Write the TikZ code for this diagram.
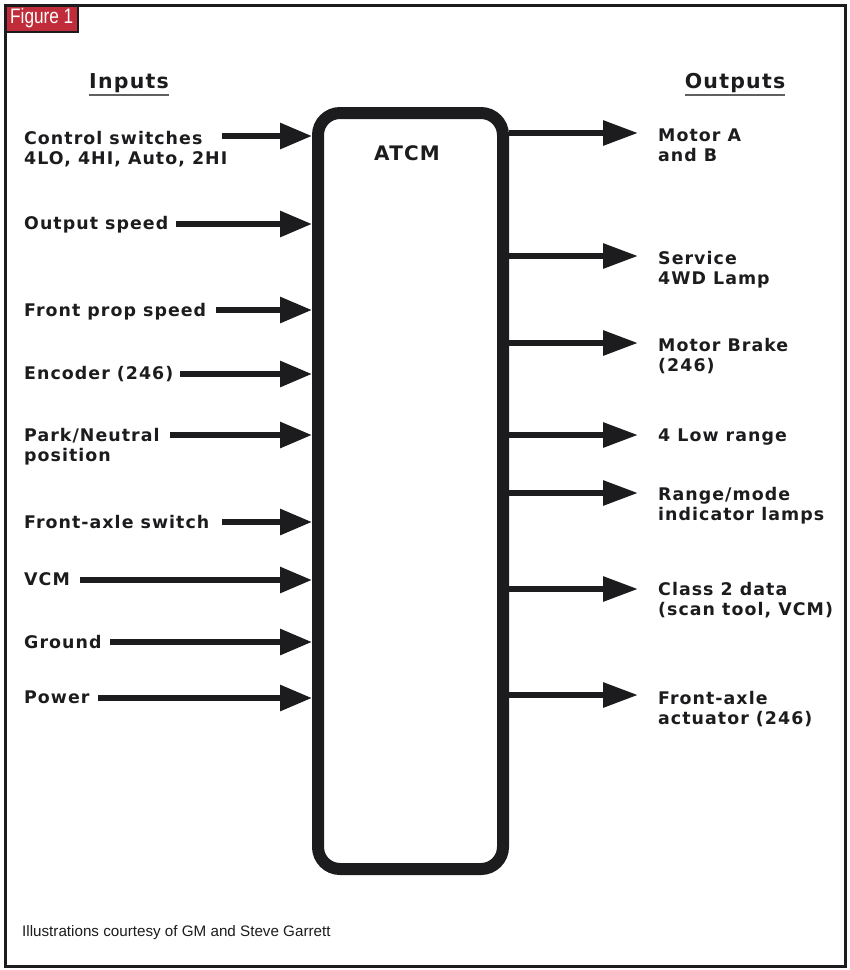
\documentclass[tikz,border=0pt]{standalone}
\usepackage{fontspec}
\setmainfont{Liberation Sans}
\newfontfamily\lblfont{DejaVu Sans}[LetterSpace=6]
\usetikzlibrary{arrows.meta}
\definecolor{ink}{RGB}{28,28,30}
\definecolor{figred}{RGB}{192,44,58}
\tikzset{
  lbl/.style={anchor=base west, inner sep=0pt, align=left, text=ink,
    font=\lblfont\bfseries\fontsize{17.4}{20}\selectfont},
  hdr/.style={anchor=base, inner sep=0pt, text=ink,
    font=\lblfont\bfseries\fontsize{20.5}{24}\selectfont},
  inarrow/.style={draw=ink, line width=6pt, -{Triangle[length=32pt,width=25pt]}},
  outarrow/.style={draw=ink, line width=6pt, -{Triangle[length=35pt,width=24pt]}},
  ulin/.style={draw=ink!70, line width=1.8pt},
}
\begin{document}
\begin{tikzpicture}[x=1pt,y=-1pt]
\useasboundingbox (0,0) rectangle (850,970);
% frame
\draw[ink, line width=3pt] (5,5) rectangle (845,966);
\node[draw=ink, line width=1.5pt, fill=figred, minimum width=72pt, minimum height=26pt, anchor=north west, inner sep=0pt] (figbox) at (5,5) {};
\node[text=white, font=\fontsize{21}{22}\selectfont, xscale=0.82, inner sep=0pt] (figlbl) at ([yshift=0.5pt]figbox.center) {Figure 1};
% ATCM box
\node[draw=ink, line width=12pt, rounded corners=22pt, minimum width=185pt, minimum height=756pt, inner sep=0pt] (atcm) at (410.5,491) {};
\node[hdr, font=\lblfont\bfseries\fontsize{20}{24}\selectfont] (atcmlbl) at (407,160) {ATCM};
% headers
\node[hdr] (inputs) at (129,88) {Inputs};
\node[hdr] (outputs) at (735,88) {Outputs};
\draw[ulin] ([yshift=-7pt]inputs.base west) -- ([yshift=-7pt]inputs.base east);
\draw[ulin] ([yshift=-7pt]outputs.base west) -- ([yshift=-7pt]outputs.base east);
% inputs
\node[lbl] (i1) at (24,164.5) {Control switches\\4LO, 4HI, Auto, 2HI};
\node[lbl] (i2) at (24,229.5) {Output speed};
\node[lbl] (i3) at (24,316.5) {Front prop speed};
\node[lbl] (i4) at (24,379.5) {Encoder (246)};
\node[lbl] (i5) at (24,461.5) {Park/Neutral\\position};
\node[lbl] (i6) at (24,528.5) {Front-axle switch};
\node[lbl] (i7) at (24,585.5) {VCM};
\node[lbl] (i8) at (24,648.5) {Ground};
\node[lbl] (i9) at (24,703.5) {Power};
\coordinate (s1) at (222,136);
\coordinate (s2) at (176,224);
\coordinate (s3) at (216,310);
\coordinate (s4) at (180,374);
\coordinate (s5) at (170,435);
\coordinate (s6) at (222,522);
\coordinate (s7) at (80,580);
\coordinate (s8) at (110,642);
\coordinate (s9) at (98,698);
\foreach \k in {1,...,9} {\draw[inarrow] (s\k) -- (s\k -| atcm.west);}
% outputs
\node[lbl] (o1) at (658,161) {Motor A\\and B};
\node[lbl] (o2) at (658,284) {Service\\4WD Lamp};
\node[lbl] (o3) at (658,371) {Motor Brake\\(246)};
\node[lbl] (o4) at (658,441) {4 Low range};
\node[lbl] (o5) at (658,520) {Range/mode\\indicator lamps};
\node[lbl] (o6) at (658,615) {Class 2 data\\(scan tool, VCM)};
\node[lbl] (o7) at (658,724) {Front-axle\\actuator (246)};
\coordinate (e1) at (638,133);
\coordinate (e2) at (638,256);
\coordinate (e3) at (638,343);
\coordinate (e4) at (638,435);
\coordinate (e5) at (638,493);
\coordinate (e6) at (638,589);
\coordinate (e7) at (638,695);
\foreach \k in {1,...,7} {\draw[outarrow] (e\k -| atcm.east) -- (e\k);}
% caption
\node[anchor=base west, inner sep=0pt, text=ink, font=\fontsize{15.2}{17}\selectfont] (cap) at (22,936) {Illustrations courtesy of GM and Steve Garrett};
\end{tikzpicture}
\end{document}
